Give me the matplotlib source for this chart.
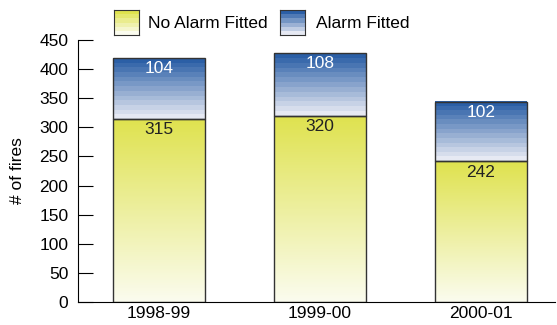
import numpy as np
import matplotlib.pyplot as plt
from matplotlib.colors import LinearSegmentedColormap

# Fire counts per year, split by whether a smoke alarm was fitted
years = ['1998-99', '1999-00', '2000-01']
no_alarm = [315, 320, 242]
alarm = [104, 108, 102]

plt.rcParams['font.family'] = ['Liberation Sans', 'DejaVu Sans']

yellow_cm = LinearSegmentedColormap.from_list('yel', ['#fbfcef', '#dfe24e'])
blue_cm = LinearSegmentedColormap.from_list('blu', ['#e6e9f3', '#2b5fa6'])

fig = plt.figure(figsize=(5.57, 3.25), dpi=100)
ax = fig.add_axes([0.14, 0.0708, 0.856, 0.806])

x = np.arange(len(years))
width = 0.57
grad_smooth = np.linspace(0, 1, 256).reshape(-1, 1)
grad_steps = np.linspace(0, 1, 13).reshape(-1, 1)


def gradient_bar(ax, xc, bottom, height, cmap, grad):
    ax.imshow(grad, cmap=cmap, origin='lower', aspect='auto',
              interpolation='nearest',
              extent=(xc - width / 2, xc + width / 2, bottom, bottom + height),
              zorder=2)
    ax.bar(xc, height, width, bottom=bottom, facecolor='none',
           edgecolor='#333333', linewidth=1, zorder=3)


for i in range(len(years)):
    gradient_bar(ax, x[i], 0, no_alarm[i], yellow_cm, grad_smooth)
    gradient_bar(ax, x[i], no_alarm[i], alarm[i], blue_cm, grad_steps)
    ax.text(x[i], no_alarm[i] - 6, str(no_alarm[i]), ha='center', va='top',
            fontsize=12.5, color='#222222', zorder=4)
    ax.text(x[i], no_alarm[i] + alarm[i] - 5, str(alarm[i]), ha='center',
            va='top', fontsize=12.5, color='white', zorder=4)

ax.set_xlim(-0.503, 2.46)
ax.set_ylim(0, 450)
ax.set_xticks(x)
ax.set_xticklabels(years, fontsize=12.5)
ax.set_yticks(np.arange(0, 451, 50))
ax.tick_params(axis='y', direction='in', length=11, labelsize=12.5, pad=7)
ax.tick_params(axis='x', length=0, labelsize=12.5, pad=3)
ax.set_ylabel('# of fires', fontsize=12.5, labelpad=10)
for side in ['top', 'right']:
    ax.spines[side].set_visible(False)

# Legend with gradient swatches above the plot
legend_items = [('No Alarm Fitted', yellow_cm, 114, 148),
                ('Alarm Fitted', blue_cm, 280, 316)]
for label, cmap, px, tx in legend_items:
    sw = fig.add_axes([px / 557, 1 - 35 / 325, 25 / 557, 25 / 325])
    sw.imshow(np.linspace(0, 1, 6).reshape(-1, 1), cmap=cmap, origin='lower',
              aspect='auto', interpolation='nearest')
    sw.set_xticks([])
    sw.set_yticks([])
    for s in sw.spines.values():
        s.set_color('#333333')
    fig.text(tx / 557, 1 - 23 / 325, label, fontsize=12.5, va='center')

fig.savefig('out.png', dpi=100)
